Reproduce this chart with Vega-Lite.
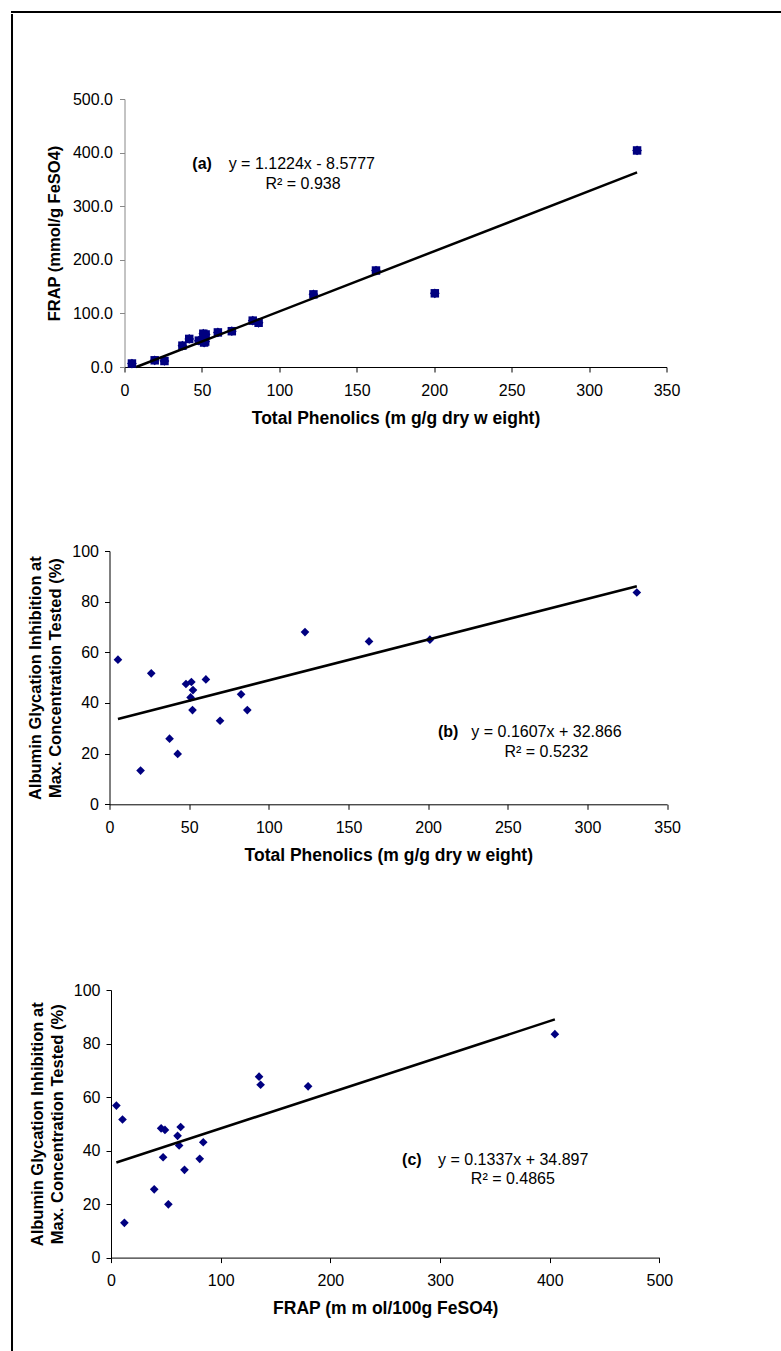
{
  "$schema": "https://vega.github.io/schema/vega-lite/v6.json",
  "padding": {"left": 11, "top": 11, "right": 0, "bottom": 0},
  "autosize": {"type": "pad"},
  "background": "white",
  "config": {
    "view": {"stroke": null},
    "font": "Liberation Sans",
    "axis": {
      "grid": false,
      "labelFont": "Liberation Sans",
      "titleFont": "Liberation Sans",
      "labelFontSize": 16,
      "titleFontSize": 16.5,
      "titleFontWeight": "bold",
      "labelColor": "black",
      "titleColor": "black",
      "domainColor": "black",
      "tickColor": "black",
      "tickSize": 5,
      "labelFlush": false,
      "labelOverlap": false
    },
    "axisX": {"labelPadding": 10, "titlePadding": 11, "titleFontSize": 17.5},
    "axisY": {"labelPadding": 6, "titlePadding": 8, "titleLineHeight": 20}
  },
  "datasets": {
    "a": [
      {"tp": 4.8, "frap": 6.5}, {"tp": 19.5, "frap": 12.5}, {"tp": 25.8, "frap": 11.2},
      {"tp": 37.4, "frap": 39.8}, {"tp": 41.8, "frap": 52.4}, {"tp": 48.0, "frap": 49.2},
      {"tp": 51.4, "frap": 45.7}, {"tp": 52.4, "frap": 60.7}, {"tp": 50.9, "frap": 62.1},
      {"tp": 52.1, "frap": 47.5}, {"tp": 60.3, "frap": 64.5}, {"tp": 69.3, "frap": 66.8},
      {"tp": 82.8, "frap": 86.5}, {"tp": 86.6, "frap": 82.5}, {"tp": 122.0, "frap": 135.5},
      {"tp": 162.4, "frap": 180.0}, {"tp": 200.4, "frap": 137.5}, {"tp": 331.0, "frap": 404.0}
    ],
    "aLine": [{"tp": 7.6, "frap": 0}, {"tp": 331.0, "frap": 363.0}],
    "aBold": [{"tp": 50.1, "frap": 379.5, "t": "(a)"}],
    "aText": [
      {"tp": 114.5, "frap": 379.5, "t": "y = 1.1224x - 8.5777"},
      {"tp": 115.3, "frap": 342.0, "t": "R² = 0.938"}
    ],
    "b": [
      {"tp": 5.3, "glyc": 57.1}, {"tp": 19.5, "glyc": 13.3}, {"tp": 26.2, "glyc": 51.7},
      {"tp": 37.7, "glyc": 25.9}, {"tp": 42.8, "glyc": 19.9}, {"tp": 48.0, "glyc": 47.5},
      {"tp": 51.4, "glyc": 48.3}, {"tp": 52.4, "glyc": 45.1}, {"tp": 50.9, "glyc": 42.2},
      {"tp": 52.1, "glyc": 37.2}, {"tp": 60.5, "glyc": 49.3}, {"tp": 69.4, "glyc": 33.0},
      {"tp": 82.6, "glyc": 43.4}, {"tp": 86.5, "glyc": 37.2}, {"tp": 122.7, "glyc": 68.0},
      {"tp": 162.9, "glyc": 64.3}, {"tp": 201.1, "glyc": 65.0}, {"tp": 331.0, "glyc": 83.6}
    ],
    "bLine": [{"tp": 5.3, "glyc": 33.7}, {"tp": 331.0, "glyc": 86.1}],
    "bBold": [{"tp": 212.6, "glyc": 28.7, "t": "(b)"}],
    "bText": [
      {"tp": 274.3, "glyc": 28.7, "t": "y = 0.1607x + 32.866"},
      {"tp": 274.3, "glyc": 20.8, "t": "R² = 0.5232"}
    ],
    "c": [
      {"frap": 4.9, "glyc": 56.8}, {"frap": 10.5, "glyc": 51.6}, {"frap": 12.2, "glyc": 13.0},
      {"frap": 39.4, "glyc": 25.5}, {"frap": 52.3, "glyc": 19.9}, {"frap": 45.7, "glyc": 48.3},
      {"frap": 49.2, "glyc": 47.7}, {"frap": 47.5, "glyc": 37.5}, {"frap": 60.7, "glyc": 45.5},
      {"frap": 62.1, "glyc": 41.9}, {"frap": 63.5, "glyc": 48.8}, {"frap": 67.0, "glyc": 32.8},
      {"frap": 80.9, "glyc": 36.9}, {"frap": 84.1, "glyc": 43.1}, {"frap": 135.0, "glyc": 67.6},
      {"frap": 136.4, "glyc": 64.6}, {"frap": 179.7, "glyc": 64.0}, {"frap": 404.7, "glyc": 83.5}
    ],
    "cLine": [{"frap": 4.9, "glyc": 35.55}, {"frap": 404.7, "glyc": 89.0}],
    "cBold": [{"frap": 274.3, "glyc": 36.6, "t": "(c)"}],
    "cText": [
      {"frap": 366.7, "glyc": 36.6, "t": "y = 0.1337x + 34.897"},
      {"frap": 366.4, "glyc": 29.2, "t": "R² = 0.4865"}
    ],
    "empty": []
  },
  "spacing": 0,
  "vconcat": [
    {"width": 800, "height": 0.01, "view": {"stroke": "black", "strokeWidth": 2}, "data": {"name": "empty"}, "mark": "point", "encoding": {}},
    {
      "spacing": 3,
      "hconcat": [
        {"width": 0.01, "height": 1400, "view": {"stroke": "black", "strokeWidth": 2}, "data": {"name": "empty"}, "mark": "point", "encoding": {}},
        {
          "spacing": 0,
          "vconcat": [
            {"width": 0.01, "height": 76, "data": {"name": "empty"}, "mark": "point", "encoding": {}},
            {
              "spacing": 27.5,
              "hconcat": [
                {"width": 0.01, "height": 0.01, "data": {"name": "empty"}, "mark": "point", "encoding": {}},
                {
                  "width": 542,
                  "height": 268,
                  "encoding": {
                    "x": {"field": "tp", "type": "quantitative", "scale": {"domain": [0, 350], "nice": false},
                      "axis": {"values": [0, 50, 100, 150, 200, 250, 300, 350], "title": "Total Phenolics (m g/g dry w eight)"}},
                    "y": {"field": "frap", "type": "quantitative", "scale": {"domain": [0, 500], "nice": false},
                      "axis": {"values": [0, 100, 200, 300, 400, 500], "format": ".1f", "title": "FRAP (mmol/g FeSO4)", "domainColor": "#888888", "tickColor": "#888888", "labelPadding": 7, "titlePadding": 10}}
                  },
                  "layer": [
                    {"data": {"name": "a"}, "mark": {"type": "point", "shape": "diamond", "filled": true, "color": "#000080", "size": 95, "opacity": 1}},
                    {"data": {"name": "a"}, "mark": {"type": "square", "color": "#000080", "size": 72, "opacity": 1}},
                    {"data": {"name": "aLine"}, "mark": {"type": "line", "color": "black", "strokeWidth": 2.5}},
                    {"data": {"name": "aBold"}, "mark": {"type": "text", "fontSize": 16, "fontWeight": "bold", "color": "black", "align": "center"}, "encoding": {"text": {"field": "t"}}},
                    {"data": {"name": "aText"}, "mark": {"type": "text", "fontSize": 16, "color": "black", "align": "center"}, "encoding": {"text": {"field": "t"}}}
                  ]
                }
              ]
            },
            {"width": 0.01, "height": 115.5, "data": {"name": "empty"}, "mark": "point", "encoding": {}},
            {
              "spacing": 9.5,
              "hconcat": [
                {"width": 0.01, "height": 0.01, "data": {"name": "empty"}, "mark": "point", "encoding": {}},
                {
                  "width": 557.6,
                  "height": 253.3,
                  "encoding": {
                    "x": {"field": "tp", "type": "quantitative", "scale": {"domain": [0, 350], "nice": false},
                      "axis": {"values": [0, 50, 100, 150, 200, 250, 300, 350], "title": "Total Phenolics (m g/g dry w eight)"}},
                    "y": {"field": "glyc", "type": "quantitative", "scale": {"domain": [0, 100], "nice": false},
                      "axis": {"values": [0, 20, 40, 60, 80, 100], "title": ["Albumin Glycation Inhibition at", "Max. Concentration Tested (%)"]}}
                  },
                  "layer": [
                    {"data": {"name": "b"}, "mark": {"type": "point", "shape": "diamond", "filled": true, "color": "#000080", "size": 75, "opacity": 1}},
                    {"data": {"name": "bLine"}, "mark": {"type": "line", "color": "black", "strokeWidth": 2.5}},
                    {"data": {"name": "bBold"}, "mark": {"type": "text", "fontSize": 16, "fontWeight": "bold", "color": "black", "align": "center"}, "encoding": {"text": {"field": "t"}}},
                    {"data": {"name": "bText"}, "mark": {"type": "text", "fontSize": 16, "color": "black", "align": "center"}, "encoding": {"text": {"field": "t"}}}
                  ]
                }
              ]
            },
            {"width": 0.01, "height": 117.5, "data": {"name": "empty"}, "mark": "point", "encoding": {}},
            {
              "spacing": 11,
              "hconcat": [
                {"width": 0.01, "height": 0.01, "data": {"name": "empty"}, "mark": "point", "encoding": {}},
                {
                  "width": 548.4,
                  "height": 267.6,
                  "encoding": {
                    "x": {"field": "frap", "type": "quantitative", "scale": {"domain": [0, 500], "nice": false},
                      "axis": {"values": [0, 100, 200, 300, 400, 500], "title": "FRAP (m m ol/100g FeSO4)"}},
                    "y": {"field": "glyc", "type": "quantitative", "scale": {"domain": [0, 100], "nice": false},
                      "axis": {"values": [0, 20, 40, 60, 80, 100], "title": ["Albumin Glycation Inhibition at", "Max. Concentration Tested (%)"]}}
                  },
                  "layer": [
                    {"data": {"name": "c"}, "mark": {"type": "point", "shape": "diamond", "filled": true, "color": "#000080", "size": 75, "opacity": 1}},
                    {"data": {"name": "cLine"}, "mark": {"type": "line", "color": "black", "strokeWidth": 2.5}},
                    {"data": {"name": "cBold"}, "mark": {"type": "text", "fontSize": 16, "fontWeight": "bold", "color": "black", "align": "center"}, "encoding": {"text": {"field": "t"}}},
                    {"data": {"name": "cText"}, "mark": {"type": "text", "fontSize": 16, "color": "black", "align": "center"}, "encoding": {"text": {"field": "t"}}}
                  ]
                }
              ]
            }
          ]
        }
      ]
    }
  ]
}
